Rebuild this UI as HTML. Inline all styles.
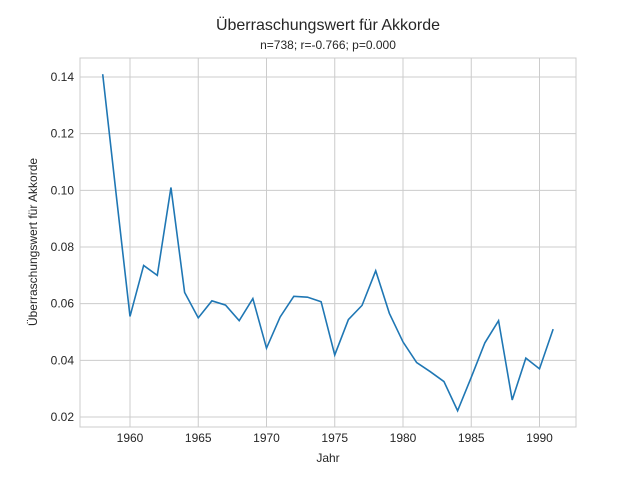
<!DOCTYPE html>
<html><head><meta charset="utf-8">
<style>
body{margin:0;background:#fff;font-family:"Liberation Sans",sans-serif;}
svg text{font-family:"Liberation Sans",sans-serif;fill:#262626;}
</style></head>
<body>
<svg id="chart" width="640" height="480">
<text x="328" y="30" text-anchor="middle" font-size="16">Überraschungswert für Akkorde</text>
<text x="328" y="49" text-anchor="middle" font-size="12">n=738; r=-0.766; p=0.000</text>
<g id="grid"></g>
<rect x="80" y="58" width="496" height="369" fill="none" stroke="#ccc" stroke-width="1"/>
<g id="marks"></g>
<text x="328" y="462" text-anchor="middle" font-size="12">Jahr</text>
<text transform="translate(37,242) rotate(-90)" text-anchor="middle" font-size="12">Überraschungswert für Akkorde</text>
</svg>
<script>
const years=[1958,1959,1960,1961,1962,1963,1964,1965,1966,1967,1968,1969,1970,1971,1972,1973,1974,1975,1976,1977,1978,1979,1980,1981,1982,1983,1984,1985,1986,1987,1988,1989,1990,1991];
const values=[0.141,0.098,0.0555,0.0735,0.070,0.101,0.064,0.055,0.061,0.0595,0.054,0.0618,0.0443,0.0553,0.0626,0.0623,0.0607,0.0419,0.0544,0.0594,0.0716,0.0566,0.0465,0.0392,0.036,0.0325,0.0222,0.034,0.0462,0.054,0.026,0.0408,0.037,0.051];
const xTicks=[1960,1965,1970,1975,1980,1985,1990];
const yTicks=[0.02,0.04,0.06,0.08,0.10,0.12,0.14];
const NS='http://www.w3.org/2000/svg';
function xs(v){return 130+(v-1960)*13.65;}
function ys(v){return 417-(v-0.02)*2833.3;}
const grid=document.getElementById('grid'),marks=document.getElementById('marks');
xTicks.forEach(t=>{
 const l=document.createElementNS(NS,'line');
 l.setAttribute('x1',xs(t));l.setAttribute('x2',xs(t));l.setAttribute('y1',58);l.setAttribute('y2',427);
 l.setAttribute('stroke','#ccc');
 
 
 grid.appendChild(l);
 const tx=document.createElementNS(NS,'text');
 tx.setAttribute('x',xs(t));tx.setAttribute('y',442);tx.setAttribute('text-anchor','middle');tx.setAttribute('font-size','12');
 tx.textContent=t;
 
 
 grid.appendChild(tx);
});
yTicks.forEach(t=>{
 const l=document.createElementNS(NS,'line');
 l.setAttribute('x1',80);l.setAttribute('x2',576);l.setAttribute('y1',ys(t));l.setAttribute('y2',ys(t));
 l.setAttribute('stroke','#ccc');
 
 
 grid.appendChild(l);
 const tx=document.createElementNS(NS,'text');
 tx.setAttribute('x',74);tx.setAttribute('y',ys(t)+4);tx.setAttribute('text-anchor','end');tx.setAttribute('font-size','12');
 tx.textContent=t.toFixed(2);
 
 
 grid.appendChild(tx);
});
const p=document.createElementNS(NS,'polyline');
p.setAttribute('points',years.map((y,i)=>xs(y)+','+ys(values[i])).join(' '));
p.setAttribute('fill','none');p.setAttribute('stroke','#1f77b4');p.setAttribute('stroke-width','1.6');


marks.appendChild(p);
</script>
</body></html>
